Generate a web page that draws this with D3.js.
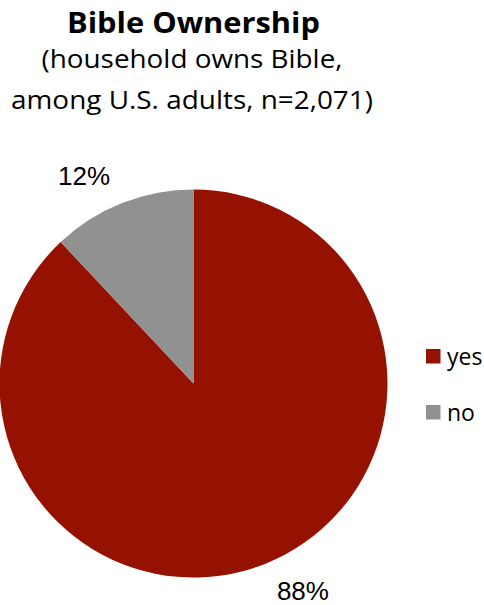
<!DOCTYPE html>
<html>
<head>
<meta charset="utf-8">
<script src="https://cdn.jsdelivr.net/npm/d3@7"></script>
<style>
  html, body { margin: 0; padding: 0; background: #fff; }
  svg { display: block; }
</style>
</head>
<body>
<svg id="chart" width="484" height="605"></svg>
<script>
// Share of U.S. adults whose household owns a Bible
const categories = ["yes", "no"];
const values = [88, 12];
const valueLabels = ["88%", "12%"];
const colors = ["#961200", "#919191"];
const titleLines = ["Bible Ownership"];
const subtitleLines = ["(household owns Bible,", "among U.S. adults, n=2,071)"];

const svg = d3.select("#chart");
const cx = 193.5, cy = 383.5, r = 194;
const textFont = "'Open Sans', 'Liberation Sans', sans-serif";

// Title block
svg.append("text")
  .attr("x", 193.5).attr("y", 33)
  .attr("text-anchor", "middle")
  .attr("font-family", textFont)
  .attr("font-weight", "bold")
  .attr("font-size", 29)
  .attr("textLength", 253).attr("lengthAdjust", "spacingAndGlyphs")
  .attr("fill", "#000")
  .text(titleLines[0]);

const subWidths = [301, 362];
subtitleLines.forEach((line, i) => {
  svg.append("text")
    .attr("x", 192).attr("y", 68 + i * 41)
    .attr("text-anchor", "middle")
    .attr("font-family", textFont)
    .attr("font-size", 26)
    .attr("textLength", subWidths[i]).attr("lengthAdjust", "spacingAndGlyphs")
    .attr("fill", "#000")
    .text(line);
});

// Pie: first slice starts at 12 o'clock and runs clockwise
const pie = d3.pie().sort(null).value(d => d.value);
const data = categories.map((c, i) => ({ cat: c, value: values[i], label: valueLabels[i], color: colors[i] }));
const arcs = pie(data);
const arc = d3.arc().innerRadius(0).outerRadius(r);
const edge = d3.arc().innerRadius(r).outerRadius(r);

const g = svg.append("g").attr("transform", `translate(${cx},${cy})`);
g.selectAll("path.slice")
  .data(arcs)
  .join("path")
  .attr("class", "slice")
  .attr("d", arc)
  .attr("fill", d => d.data.color);

// Value labels just outside the rim, pushed diagonally away from the slice
g.selectAll("text.val")
  .data(arcs)
  .join("text")
  .attr("class", "val")
  .attr("font-family", "'Liberation Sans', Arial, sans-serif")
  .attr("font-size", 26)
  .attr("text-anchor", "middle")
  .attr("fill", "#000")
  .attr("x", d => { const [x] = edge.centroid(d); return x + Math.sign(x) * 38; })
  .attr("y", d => { const [, y] = edge.centroid(d); return y + Math.sign(y) * 27 + 9; })
  .text(d => d.data.label);

// Legend
const legend = svg.append("g").attr("transform", "translate(426,349)");
const item = legend.selectAll("g.item")
  .data(data)
  .join("g")
  .attr("class", "item")
  .attr("transform", (d, i) => `translate(0,${i * 56})`);
item.append("rect")
  .attr("width", 14.5).attr("height", 14.5)
  .attr("fill", d => d.color);
item.append("text")
  .attr("x", 21).attr("y", 16)
  .attr("font-family", textFont)
  .attr("font-size", 23)
  .attr("fill", "#000")
  .text(d => d.cat);
</script>
</body>
</html>
